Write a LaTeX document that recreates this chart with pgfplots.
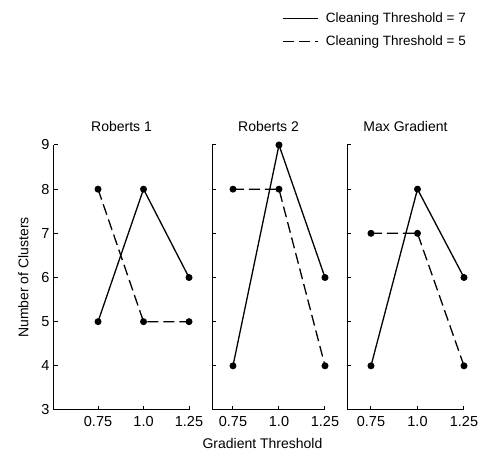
\documentclass[border=0pt]{standalone}
\usepackage{fontspec}
\setmainfont{Liberation Sans}
\usepackage{pgfplots}
\pgfplotsset{compat=1.18}
\begin{document}
\fontsize{13}{15}\selectfont
\begin{tikzpicture}
\useasboundingbox (0pt,0pt) rectangle (483pt,458pt);
\pgfplotsset{
  panel/.style={scale only axis, height=265pt, ymin=3, ymax=9, xmax=1.25,
    axis x line*=bottom, axis y line*=left, axis line style={-, line width=1pt},
    xtick={0.75,1.0,1.25}, xticklabels={0.75,1.0,1.25}, ytick={3,4,5,6,7,8,9},
    tick style={black, line width=1pt}, major tick length=4pt,
    /pgf/number format/assume math mode=true,
    tick label style={font=\fontsize{14.5}{16}\selectfont},
    xticklabel style={yshift=-2pt},
    label style={font=\fontsize{14}{16}\selectfont},
    title style={font=\fontsize{14}{16}\selectfont, yshift=3pt},
    clip=false,
  },
  s7/.style={black, line width=1.3pt, mark=*, mark size=2.8pt, mark options={solid}},
  s5/.style={black, line width=1.3pt, dash pattern=on 11pt off 5pt, mark=*, mark size=2.8pt, mark options={solid}},
}
\begin{axis}[panel, at={(54pt,48pt)}, anchor=south west, width=135pt, xmin=0.508,
  title={Roberts 1}, ylabel={Number of Clusters}, ylabel style={yshift=4pt}]
\addplot[s7] coordinates {(0.75,5) (1.0,8) (1.25,6)};
\addplot[s5] coordinates {(0.75,8) (1.0,5) (1.25,5)};
\end{axis}
\begin{axis}[panel, at={(212pt,48pt)}, anchor=south west, width=113pt, xmin=0.636,
  title={Roberts 2}, yticklabels={}, xlabel={Gradient Threshold}, xlabel style={xshift=-6pt, yshift=-3pt}]
\addplot[s7] coordinates {(0.75,4) (1.0,9) (1.25,6)};
\addplot[s5] coordinates {(0.75,8) (1.0,8) (1.25,4)};
\end{axis}
\begin{axis}[panel, at={(347pt,48pt)}, anchor=south west, width=117pt, xmin=0.621,
  title={Max Gradient}, yticklabels={},
  legend style={at={(1.06,1.515)}, anchor=north east, draw=none, fill=none,
    row sep=7pt, font=\fontsize{13.5}{15}\selectfont, cells={anchor=west}},
  legend image code/.code={\draw[#1, mark=none] (0pt,0pt) -- (35pt,0pt); \path (40pt,0pt);}]
\addplot[s7] coordinates {(0.75,4) (1.0,8) (1.25,6)};
\addlegendentry{Cleaning Threshold = 7}
\addplot[s5] coordinates {(0.75,7) (1.0,7) (1.25,4)};
\addlegendentry{Cleaning Threshold = 5}
\end{axis}
\end{tikzpicture}
\end{document}
